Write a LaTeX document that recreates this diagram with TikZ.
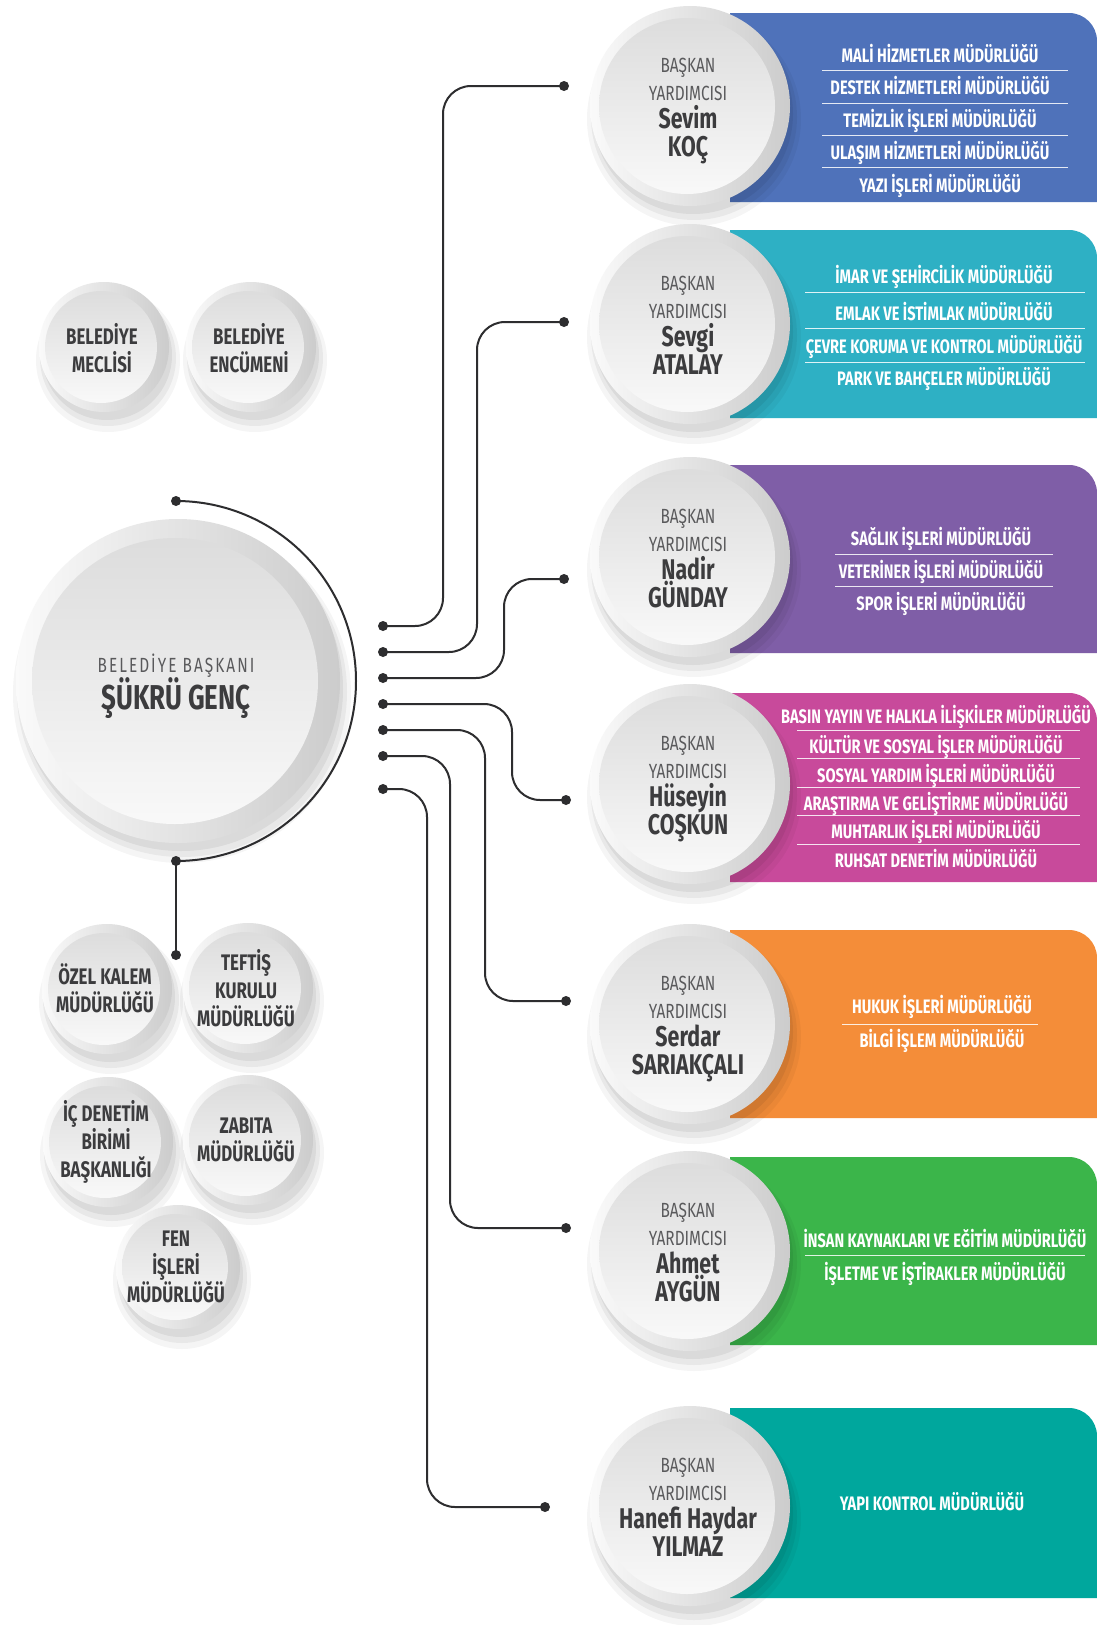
\documentclass[tikz,border=0pt]{standalone}
\usepackage{fontspec}
\newfontfamily\dinfont{Fira Sans}[FakeStretch=0.75]
\usepackage{tikz}
\definecolor{wirecol}{HTML}{2D2D2F}
\definecolor{txtdark}{HTML}{3C3C3E}
\definecolor{txtgray}{HTML}{5A5A5C}
\definecolor{kocblue}{HTML}{4F72BA}
\definecolor{atalayteal}{HTML}{2EB0C4}
\definecolor{gundaypurple}{HTML}{7F5EA7}
\definecolor{coskunpink}{HTML}{C84A9B}
\definecolor{sariorange}{HTML}{F48D39}
\definecolor{aygungreen}{HTML}{3BB54A}
\definecolor{yilmazteal}{HTML}{00A79D}

\begin{document}
\begin{tikzpicture}[x=1pt,y=-1pt]
\tikzset{
  wire/.style={draw=wirecol, line width=2pt, rounded corners=28pt},
  pin/.style={circle, fill=wirecol, inner sep=0pt, minimum size=10pt},
  unit/.style={anchor=base, text=white, font=\dinfont\bfseries\fontsize{19.5}{22}\selectfont},
  divider/.style={draw=white, line width=1pt, opacity=.85},
  vptitle/.style={anchor=base, text=txtgray, font=\dinfont\fontsize{20.5}{24}\selectfont},
  vpname/.style={anchor=base, text=txtdark, font=\dinfont\bfseries\fontsize{28.5}{32}\selectfont},
  office/.style={align=center, text=txtdark, font=\dinfont\bfseries\fontsize{22.5}{28}\selectfont}
}
% x, y, outer r, inner r
\newcommand{\knob}[4]{%
  \fill[black,opacity=.04] ({#1+4},{#2+13}) circle ({#3+7});
  \fill[black,opacity=.05] ({#1+4},{#2+11}) circle ({#3+3});
  \fill[black,opacity=.06] ({#1+3},{#2+8}) circle (#3);
  \shade[left color=gray!4, right color=gray!40] (#1,#2) circle (#3);
  \shade[top color=gray!27, bottom color=gray!5] ({#1-3},#2) circle (#4);}
% colour, top, bottom
\newcommand{\band}[3]{%
  \fill[#1] (730,#2) -- (1069,#2) arc (-90:0:28) -- (1097,#3) -- (730,#3) -- cycle;}
\newcommand{\deputy}[4]{%
  \node[vptitle] (#1t) at (688,{#2-34}) {BAŞKAN};
  \node[vptitle] (#1y) at (688,{#2-6}) {YARDIMCISI};
  \node[vpname] (#1n) at (688,{#2+22}) {#3};
  \node[vpname] (#1s) at (688,{#2+50}) {#4};}

\fill[white] (0,0) rectangle (1097,1625);
\useasboundingbox (0,0) rectangle (1097,1625);

% bands
\band{kocblue}{13}{202}
\band{atalayteal}{230}{418}
\band{gundaypurple}{465}{653}
\band{coskunpink}{693}{882}
\band{sariorange}{930}{1118}
\band{aygungreen}{1157}{1345}
\band{yilmazteal}{1408}{1598}

% buttons
\knob{178}{681}{162}{143}
\knob{104}{347}{65}{56}
\knob{251}{347}{65}{56}
\knob{107}{989}{65}{56}
\knob{248}{988}{65}{56}
\knob{108}{1142}{65}{56}
\knob{248}{1140}{65}{56}
\knob{178}{1267}{62}{53}
\knob{690}{106}{100}{88}
\knob{690}{324}{100}{88}
\knob{690}{557}{100}{88}
\knob{690}{784}{100}{88}
\knob{690}{1024}{100}{88}
\knob{690}{1251}{100}{88}
\knob{690}{1506}{100}{88}

% pins
\node[pin] (a1) at (176,501) {};
\node[pin] (a2) at (176,861) {};
\node[pin] (a3) at (176,955) {};
\node[pin] (s1) at (383,626) {};
\node[pin] (s2) at (383,652) {};
\node[pin] (s3) at (383,678) {};
\node[pin] (s4) at (383,704) {};
\node[pin] (s5) at (383,730) {};
\node[pin] (s6) at (383,756) {};
\node[pin] (s7) at (383,789) {};
\node[pin] (e1) at (564,86) {};
\node[pin] (e2) at (564,322) {};
\node[pin] (e3) at (564,579) {};
\node[pin] (e4) at (566,800) {};
\node[pin] (e5) at (566,1001) {};
\node[pin] (e6) at (566,1228) {};
\node[pin] (e7) at (545,1507) {};

% wires
\draw[draw=wirecol, line width=2pt] (a1.center) arc (-90:90:180);
\draw[draw=wirecol, line width=2pt] (a2.center) -- (a3.center);
\draw[wire] (s1.center) -| (443,86) -- (e1.center);
\draw[wire] (s2.center) -| (477,322) -- (e2.center);
\draw[wire] (s3.center) -| (504,579) -- (e3.center);
\draw[wire] (s4.center) -| (512,800) -- (e4.center);
\draw[wire] (s5.center) -| (485,1001) -- (e5.center);
\draw[wire] (s6.center) -| (450,1228) -- (e6.center);
\draw[wire] (s7.center) -| (427,1507) -- (e7.center);

% mayor
\node[anchor=base, text=txtgray, font=\dinfont\fontsize{20.5}{24}\selectfont] (mayortitle) at (176,672)
  {\addfontfeatures{LetterSpace=10}BELEDİYE BAŞKANI};
\node[anchor=base, text=txtdark, font=\dinfont\bfseries\fontsize{34.5}{38}\selectfont] (mayor) at (176,709) {ŞÜKRÜ GENÇ};

% offices
\node[office] (meclis) at (102,348) {BELEDİYE\\MECLİSİ};
\node[office] (encumen) at (249,348) {BELEDİYE\\ENCÜMENİ};
\node[office] (kalem) at (105,988) {ÖZEL KALEM\\MÜDÜRLÜĞÜ};
\node[office] (teftis) at (246,988) {TEFTİŞ\\KURULU\\MÜDÜRLÜĞÜ};
\node[office] (denetim) at (106,1142) {İÇ DENETİM\\BİRİMİ\\BAŞKANLIĞI};
\node[office] (zabita) at (246,1140) {ZABITA\\MÜDÜRLÜĞÜ};
\node[office] (fen) at (176,1267) {FEN\\İŞLERİ\\MÜDÜRLÜĞÜ};

% deputies
\deputy{koc}{106}{Sevim}{KOÇ}
\deputy{atalay}{324}{Sevgi}{ATALAY}
\deputy{gunday}{557}{Nadir}{GÜNDAY}
\deputy{coskun}{784}{Hüseyin}{COŞKUN}
\deputy{sari}{1024}{Serdar}{SARIAKÇALI}
\deputy{aygun}{1251}{Ahmet}{AYGÜN}
\deputy{yilmaz}{1506}{Hanefi Haydar}{YILMAZ}

% Sevim KOÇ
\node[unit] (u11) at (940,62) {MALİ HİZMETLER MÜDÜRLÜĞÜ};
\node[unit] (u12) at (940,94) {DESTEK HİZMETLERİ MÜDÜRLÜĞÜ};
\node[unit] (u13) at (940,127) {TEMİZLİK İŞLERİ MÜDÜRLÜĞÜ};
\node[unit] (u14) at (940,159) {ULAŞIM HİZMETLERİ MÜDÜRLÜĞÜ};
\node[unit] (u15) at (940,192) {YAZI İŞLERİ MÜDÜRLÜĞÜ};
\draw[divider] (822,70) -- (1068,70);
\draw[divider] (822,103) -- (1068,103);
\draw[divider] (822,135) -- (1068,135);
\draw[divider] (822,167) -- (1068,167);

% Sevgi ATALAY
\node[unit] (u21) at (944,283) {İMAR VE ŞEHİRCİLİK MÜDÜRLÜĞÜ};
\node[unit] (u22) at (944,320) {EMLAK VE İSTİMLAK MÜDÜRLÜĞÜ};
\node[unit] (u23) at (944,353) {ÇEVRE KORUMA VE KONTROL MÜDÜRLÜĞÜ};
\node[unit] (u24) at (944,385) {PARK VE BAHÇELER MÜDÜRLÜĞÜ};
\draw[divider] (805,292) -- (1085,292);
\draw[divider] (805,328) -- (1085,328);
\draw[divider] (805,362) -- (1085,362);

% Nadir GÜNDAY
\node[unit] (u31) at (941,545) {SAĞLIK İŞLERİ MÜDÜRLÜĞÜ};
\node[unit] (u32) at (941,578) {VETERİNER İŞLERİ MÜDÜRLÜĞÜ};
\node[unit] (u33) at (941,610) {SPOR İŞLERİ MÜDÜRLÜĞÜ};
\draw[divider] (835,554) -- (1053,554);
\draw[divider] (835,586) -- (1053,586);

% Hüseyin COŞKUN
\node[unit] (u41) at (936,723) {BASIN YAYIN VE HALKLA İLİŞKİLER MÜDÜRLÜĞÜ};
\node[unit] (u42) at (936,753) {KÜLTÜR VE SOSYAL İŞLER MÜDÜRLÜĞÜ};
\node[unit] (u43) at (936,782) {SOSYAL YARDIM İŞLERİ MÜDÜRLÜĞÜ};
\node[unit] (u44) at (936,810) {ARAŞTIRMA VE GELİŞTİRME MÜDÜRLÜĞÜ};
\node[unit] (u45) at (936,838) {MUHTARLIK İŞLERİ MÜDÜRLÜĞÜ};
\node[unit] (u46) at (936,867) {RUHSAT DENETİM MÜDÜRLÜĞÜ};
\draw[divider] (797,730) -- (1080,730);
\draw[divider] (797,758) -- (1080,758);
\draw[divider] (797,787) -- (1080,787);
\draw[divider] (797,815) -- (1080,815);
\draw[divider] (797,844) -- (1080,844);

% Serdar SARIAKÇALI
\node[unit] (u51) at (942,1013) {HUKUK İŞLERİ MÜDÜRLÜĞÜ};
\node[unit] (u52) at (942,1047) {BİLGİ İŞLEM MÜDÜRLÜĞÜ};
\draw[divider] (842,1024) -- (1038,1024);

% Ahmet AYGÜN
\node[unit] (u61) at (945,1247) {İNSAN KAYNAKLARI VE EĞİTİM MÜDÜRLÜĞÜ};
\node[unit] (u62) at (945,1280) {İŞLETME VE İŞTİRAKLER MÜDÜRLÜĞÜ};
\draw[divider] (805,1255) -- (1085,1255);

% Hanefi Haydar YILMAZ
\node[unit] (u71) at (932,1510) {YAPI KONTROL MÜDÜRLÜĞÜ};

\end{tikzpicture}
\end{document}
